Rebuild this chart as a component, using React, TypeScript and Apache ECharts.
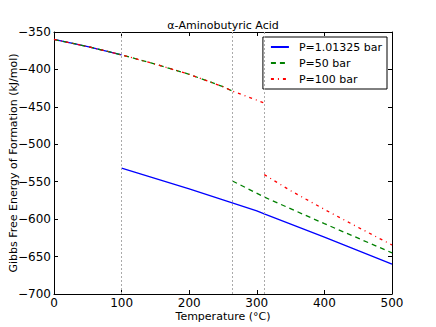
import React, { useEffect, useRef } from "react";
import * as echarts from "echarts";

// Liquid-phase branch (shared by all pressures up to their boiling point)
const liquidTemps = [0, 50, 100, 150, 200, 250, 264, 300, 311];
const liquidG = [-360, -369.5, -380.5, -393, -406.5, -423, -429, -441, -445];

// Gas-phase branches
const gasTemps1 = [100, 200, 300, 311, 400, 500];
const gasG1 = [-532, -559.5, -589, -593, -624, -660];
const gasTemps50 = [264, 311, 400, 500];
const gasG50 = [-549, -570.5, -606, -645];
const gasTemps100 = [311, 350, 400, 450, 500];
const gasG100 = [-540.5, -562, -587, -611, -634.5];

// Boiling points (°C) at each pressure
const boilingPoints = [100, 264, 311];
const seriesNames = ["P=1.01325 bar", "P=50 bar", "P=100 bar"];
const xTicks = [0, 100, 200, 300, 400, 500];
const yTicks = [-700, -650, -600, -550, -500, -450, -400, -350];

const FONT = "DejaVu Sans";

function liquidUpTo(tMax: number) {
  const out: number[][] = [];
  liquidTemps.forEach((t, i) => {
    if (t <= tMax) out.push([t, liquidG[i]]);
  });
  return out;
}
function pairs(ts: number[], gs: number[]) {
  return ts.map((t, i) => [t, gs[i]]);
}

export default function App() {
  const ref = useRef<HTMLDivElement>(null);
  useEffect(() => {
    if (!ref.current) return;
    const chart = echarts.init(ref.current, undefined, { renderer: "svg" });
    const fmt = (v: number) => String(v).replace("-", "\u2212");
    const styles = [
      { color: "#0000ff", type: "solid" as any, width: 1.3 },
      { color: "#008000", type: [5, 4] as any, width: 1.3 },
      { color: "#ff0000", type: [3, 4, 1, 4] as any, width: 1.3 },
    ];
    const branches = [
      [liquidUpTo(boilingPoints[0]), pairs(gasTemps1, gasG1)],
      [liquidUpTo(boilingPoints[1]), pairs(gasTemps50, gasG50)],
      [liquidUpTo(boilingPoints[2]), pairs(gasTemps100, gasG100)],
    ];
    const series: any[] = [];
    branches.forEach((br, i) => {
      br.forEach((d, j) => {
        const s: any = {
          type: "line",
          name: seriesNames[i],
          data: d,
          showSymbol: false,
          symbol: "none",
          lineStyle: styles[i],
          itemStyle: { color: styles[i].color },
          z: 3 + i,
        };
        if (i === 0 && j === 0) {
          s.markLine = {
            silent: true,
            symbol: ["none", "none"],
            label: { show: false },
            lineStyle: { color: "#aaa", type: [2, 2], width: 1 },
            data: boilingPoints.map((b) => ({ xAxis: b })),
          };
        }
        series.push(s);
      });
    });
    const tickCommon = {
      axisTick: { show: true, inside: true, length: 4, lineStyle: { color: "#000" } },
      axisLine: { show: true, onZero: false, lineStyle: { color: "#000", width: 1 } },
      splitLine: { show: false },
    };
    chart.setOption({
      animation: false,
      backgroundColor: "#fff",
      title: {
        text: "\u03b1-Aminobutyric Acid",
        left: 223,
        top: 20,
        padding: 0,
        textAlign: "center",
        textStyle: { fontFamily: FONT, fontSize: 11, fontWeight: "normal", color: "#000" },
      },
      legend: {
        data: seriesNames,
        orient: "vertical",
        right: 49,
        top: 37,
        backgroundColor: "#fff",
        borderColor: "#000",
        borderWidth: 1,
        borderRadius: 0,
        padding: [4, 5, 4, 7],
        itemWidth: 18,
        itemHeight: 10,
        itemGap: 4,
        itemStyle: { opacity: 0 },
        textStyle: {
          fontFamily: FONT,
          fontSize: 11,
          lineHeight: 12,
          color: "#000",
          padding: [0, 0, 0, 5],
        },
      },
      grid: { left: 54, right: 44, top: 32, bottom: 33, containLabel: false, outerBoundsMode: "none" },
      xAxis: [
        {
          type: "value",
          min: xTicks[0],
          max: xTicks[xTicks.length - 1],
          interval: 100,
          position: "bottom",
          name: "Temperature (\u00b0C)",
          nameLocation: "middle",
          nameGap: 17,
          nameMoveOverlap: false,
          nameTextStyle: { fontFamily: FONT, fontSize: 11, color: "#000" },
          axisLabel: { fontFamily: FONT, fontSize: 12, color: "#000", margin: 3, formatter: fmt },
          ...tickCommon,
        },
        {
          type: "value",
          min: xTicks[0],
          max: xTicks[xTicks.length - 1],
          interval: 100,
          position: "top",
          axisLabel: { show: false },
          ...tickCommon,
        },
      ],
      yAxis: [
        {
          type: "value",
          min: yTicks[0],
          max: yTicks[yTicks.length - 1],
          interval: 50,
          position: "left",
          name: "Gibbs Free Energy of Formation (kJ/mol)",
          nameLocation: "middle",
          nameRotate: 90,
          nameGap: 35,
          nameMoveOverlap: false,
          nameTextStyle: { fontFamily: FONT, fontSize: 11, color: "#000" },
          axisLabel: { fontFamily: FONT, fontSize: 12, color: "#000", margin: 3, formatter: fmt },
          ...tickCommon,
        },
        {
          type: "value",
          min: yTicks[0],
          max: yTicks[yTicks.length - 1],
          interval: 50,
          position: "right",
          axisLabel: { show: false },
          ...tickCommon,
        },
      ],
      series,
    });
    return () => chart.dispose();
  }, []);
  return (
    <div
      ref={ref}
      style={{ position: "fixed", left: 0, top: 0, width: 436, height: 327 }}
    />
  );
}
